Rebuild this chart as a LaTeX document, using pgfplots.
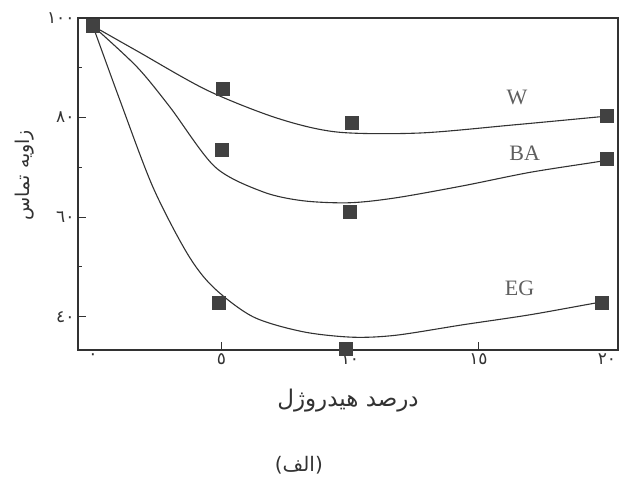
\documentclass[border=0pt]{standalone}
\usepackage{fontspec}
\setmainfont{Liberation Serif}
\newfontfamily\arabicfont[Script=Arabic]{DejaVu Sans}
\TeXXeTstate=1
\usepackage{pgfplots}
\pgfplotsset{compat=1.18}
\definecolor{ink}{RGB}{50,50,50}
\definecolor{markc}{RGB}{65,65,65}
\definecolor{lbl}{RGB}{95,95,95}
\begin{document}
\begin{tikzpicture}
\begin{axis}[
  scale only axis, width=540pt, height=332pt,
  xmin=-0.58, xmax=20.43, ymin=33.33, ymax=100,
  axis line style={ink, line width=1.4pt},
  xtick={5,10,15},
  xticklabels={٥,١٠,١٥},
  extra x ticks={0,20},
  extra x tick labels={٠,٢٠},
  extra x tick style={major tick length=0pt},
  ytick={40,60,80,100},
  yticklabels={٤٠,٦٠,٨٠,١٠٠},
  minor ytick={50,70,90},
  tick align=inside, major tick length=8pt, minor tick length=4pt,
  tick style={ink, line width=1pt},
  ticklabel style={font=\arabicfont\fontsize{17}{17}\selectfont, text=ink},
  xtick pos=bottom, ytick pos=left,
  clip=false,
]
% fitted curves
\addplot[ink, line width=1.1pt, smooth] coordinates {
 (0,98.4)(1.71,93.4)(4.44,85.5)(7.16,79.9)(9.5,77.1)(12.7,76.9)(16.3,78.5)(19.6,80.1)(20,80.3)};
\addplot[ink, line width=1.1pt, smooth] coordinates {
 (0,98.4)(1.71,90.2)(3.0,82.1)(4.75,70.1)(6.61,65.1)(8.17,63.3)(10.0,62.9)(11.8,63.9)(14.4,66.3)(17.0,69.0)(19.6,71.1)(20,71.5)};
\addplot[ink, line width=1.1pt, smooth] coordinates {
 (0,98.4)(1.05,83.5)(2.33,66.1)(3.66,52.8)(4.67,46.0)(6.23,40.0)(8.17,37.0)(10.1,35.9)(11.8,36.3)(14.4,38.4)(17.0,40.4)(19.6,42.8)(20,43.0)};
% measured points
\addplot[only marks, mark=square*, mark size=6.5pt, color=markc] coordinates {
 (0,98.4)(5.05,85.9)(10.05,78.9)(20,80.3)};
\addplot[only marks, mark=square*, mark size=6.5pt, color=markc] coordinates {
 (5,73.5)(10,61.2)(20,71.7)};
\addplot[only marks, mark=square*, mark size=6.5pt, color=markc] coordinates {
 (4.9,42.8)(9.85,33.5)(19.8,42.8)};
% series labels
\node[font=\fontsize{22}{22}\selectfont, text=lbl] at (axis cs:16.5,84.1) {W};
\node[font=\fontsize{22}{22}\selectfont, text=lbl] at (axis cs:16.8,72.9) {BA};
\node[font=\fontsize{22}{22}\selectfont, text=lbl] at (axis cs:16.6,45.8) {EG};
% axis labels and caption
\node[rotate=90, font=\arabicfont\fontsize{19}{19}\selectfont, text=ink] at (rel axis cs:-0.098,0.527) {\beginR زاویه تماس\endR};
\node[font=\arabicfont\fontsize{23}{23}\selectfont, text=ink] at (rel axis cs:0.5,-0.151) {\beginR درصد هیدروژل\endR};
\node[font=\arabicfont\fontsize{20}{20}\selectfont, text=ink] at (rel axis cs:0.409,-0.346) {\beginR(الف)\endR};
\end{axis}
\pgfresetboundingbox
\useasboundingbox ([shift={(-78pt,-134pt)}]current axis.south west) rectangle ([shift={(8pt,18pt)}]current axis.north east);
\end{tikzpicture}
\end{document}
